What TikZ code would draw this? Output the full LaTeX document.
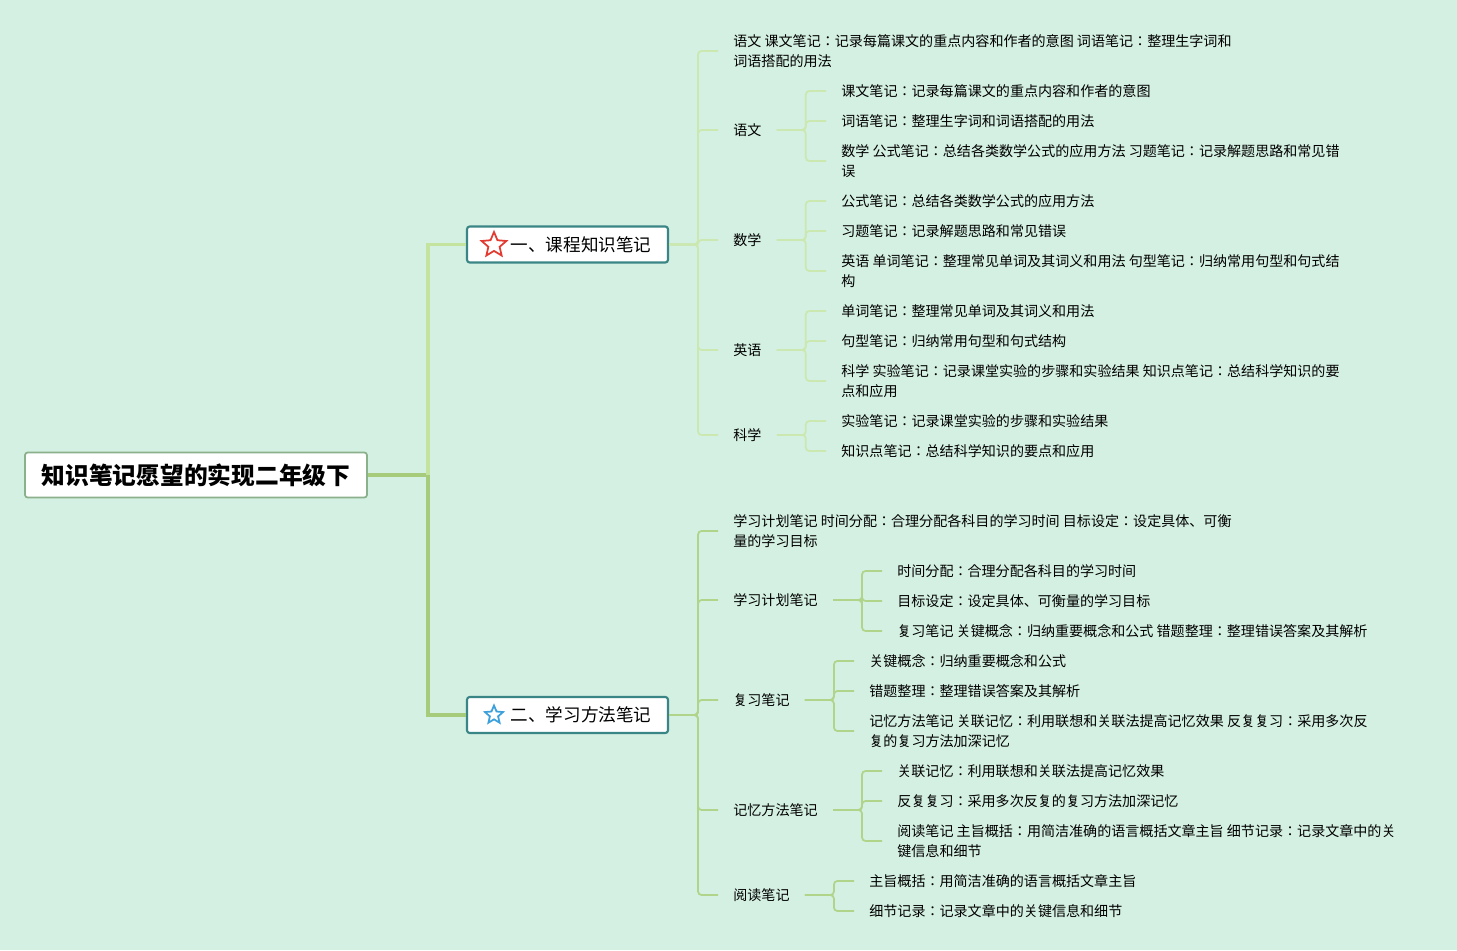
\documentclass[tikz,border=0pt]{standalone}
\usepackage{fontspec}
\setmainfont{Noto Sans CJK JP}
\usetikzlibrary{shapes.geometric}
\definecolor{bgmint}{RGB}{212,240,226}
\definecolor{trunkup}{RGB}{196,227,158}
\definecolor{trunkdown}{RGB}{166,203,122}
\definecolor{twigup}{RGB}{203,232,176}
\definecolor{twigdown}{RGB}{176,212,138}
\definecolor{tealedge}{RGB}{58,134,134}
\definecolor{rootedge}{RGB}{138,176,140}
\definecolor{starred}{RGB}{226,60,50}
\definecolor{starblue}{RGB}{60,160,220}
\tikzstyle{rootbox} = [rectangle, rounded corners=1.5pt, fill=white, draw=rootedge, line width=1pt, minimum width=6.84cm, minimum height=0.9cm, font=\fontsize{13.5}{16}\selectfont\bfseries]
\tikzstyle{topicbox} = [rectangle, rounded corners=1.5pt, fill=white, draw=tealedge, line width=1.2pt, minimum width=4.02cm, minimum height=0.72cm, font=\fontsize{10}{12}\selectfont]
\tikzstyle{item} = [anchor=west, inner xsep=0.3cm, inner ysep=1pt, align=left, font=\fontsize{8}{11.4}\selectfont]
\tikzstyle{trunk} = [line width=2.2pt]
\tikzstyle{twig} = [line width=1pt, rounded corners=2pt]
\tikzstyle{mark star} = [star, star points=5, star point ratio=2.2, line width=1pt, inner sep=0pt]

\begin{document}
\begin{tikzpicture}[x=0.02cm, y=-0.02cm]
    \path [use as bounding box, fill=bgmint] (0,0) rectangle (1457,950);

    % root and the two topics
    \node (root) [rootbox] at (196,475) {知识笔记愿望的实现二年级下};
    \node (kc) [topicbox] at (567.5,244.5) {\hspace*{0.54cm}一、课程知识笔记};
    \node (xf) [topicbox] at (567.5,715) {\hspace*{0.54cm}二、学习方法笔记};
    \node (kcstar) [mark star, draw=starred, minimum size=0.52cm] at (494,245) {};
    \node (xfstar) [mark star, draw=starblue, minimum size=0.38cm] at (494,715) {};

    % first topic
    \node (yw0) [item] at (718,51) {语文 课文笔记：记录每篇课文的重点内容和作者的意图 词语笔记：整理生字词和\\词语搭配的用法};
    \node (yw) [item] at (718,130) {语文};
    \node (yw1) [item] at (826,91) {课文笔记：记录每篇课文的重点内容和作者的意图};
    \node (yw2) [item] at (826,121) {词语笔记：整理生字词和词语搭配的用法};
    \node (yw3) [item] at (826,161) {数学 公式笔记：总结各类数学公式的应用方法 习题笔记：记录解题思路和常见错\\误};
    \node (sx) [item] at (718,240) {数学};
    \node (sx1) [item] at (826,201) {公式笔记：总结各类数学公式的应用方法};
    \node (sx2) [item] at (826,231) {习题笔记：记录解题思路和常见错误};
    \node (sx3) [item] at (826,271) {英语 单词笔记：整理常见单词及其词义和用法 句型笔记：归纳常用句型和句式结\\构};
    \node (yy) [item] at (718,350) {英语};
    \node (yy1) [item] at (826,311) {单词笔记：整理常见单词及其词义和用法};
    \node (yy2) [item] at (826,341) {句型笔记：归纳常用句型和句式结构};
    \node (yy3) [item] at (826,381) {科学 实验笔记：记录课堂实验的步骤和实验结果 知识点笔记：总结科学知识的要\\点和应用};
    \node (kx) [item] at (718,435) {科学};
    \node (kx1) [item] at (826,421) {实验笔记：记录课堂实验的步骤和实验结果};
    \node (kx2) [item] at (826,451) {知识点笔记：总结科学知识的要点和应用};

    % second topic
    \node (jh0) [item] at (718,531) {学习计划笔记 时间分配：合理分配各科目的学习时间 目标设定：设定具体、可衡\\量的学习目标};
    \node (jh) [item] at (718,600) {学习计划笔记};
    \node (jh1) [item] at (882,571) {时间分配：合理分配各科目的学习时间};
    \node (jh2) [item] at (882,601) {目标设定：设定具体、可衡量的学习目标};
    \node (jh3) [item] at (882,631) {复习笔记 关键概念：归纳重要概念和公式 错题整理：整理错误答案及其解析};
    \node (fx) [item] at (718,700) {复习笔记};
    \node (fx1) [item] at (854,661) {关键概念：归纳重要概念和公式};
    \node (fx2) [item] at (854,691) {错题整理：整理错误答案及其解析};
    \node (fx3) [item] at (854,731) {记忆方法笔记 关联记忆：利用联想和关联法提高记忆效果 反复复习：采用多次反\\复的复习方法加深记忆};
    \node (jy) [item] at (718,810) {记忆方法笔记};
    \node (jy1) [item] at (882,771) {关联记忆：利用联想和关联法提高记忆效果};
    \node (jy2) [item] at (882,801) {反复复习：采用多次反复的复习方法加深记忆};
    \node (jy3) [item] at (882,841) {阅读笔记 主旨概括：用简洁准确的语言概括文章主旨 细节记录：记录文章中的关\\键信息和细节};
    \node (yd) [item] at (718,895) {阅读笔记};
    \node (yd1) [item] at (854,881) {主旨概括：用简洁准确的语言概括文章主旨};
    \node (yd2) [item] at (854,911) {细节记录：记录文章中的关键信息和细节};

    % trunk lines
    \draw [trunk, trunkdown] (root.east) -- ++(60,0) |- (xf.west);
    \draw [trunk, trunkup] (root.east) ++(60,0) |- (kc.west);

    \foreach \n in {yw0,yw,sx,yy,kx}
        \draw [twig, twigup] (kc.east) -- ++(29,0) |- (\n.west);
    \foreach \p/\list in {yw/{yw1,yw2,yw3}, sx/{sx1,sx2,sx3}, yy/{yy1,yy2,yy3}, kx/{kx1,kx2}}
        \foreach \n in \list
            \draw [twig, twigup] (\p.east) -- ++(29,0) |- (\n.west);

    \foreach \n in {jh0,jh,fx,jy,yd}
        \draw [twig, twigdown] (xf.east) -- ++(29,0) |- (\n.west);
    \foreach \p/\list in {jh/{jh1,jh2,jh3}, fx/{fx1,fx2,fx3}, jy/{jy1,jy2,jy3}, yd/{yd1,yd2}}
        \foreach \n in \list
            \draw [twig, twigdown] (\p.east) -- ++(29,0) |- (\n.west);
\end{tikzpicture}
\end{document}
